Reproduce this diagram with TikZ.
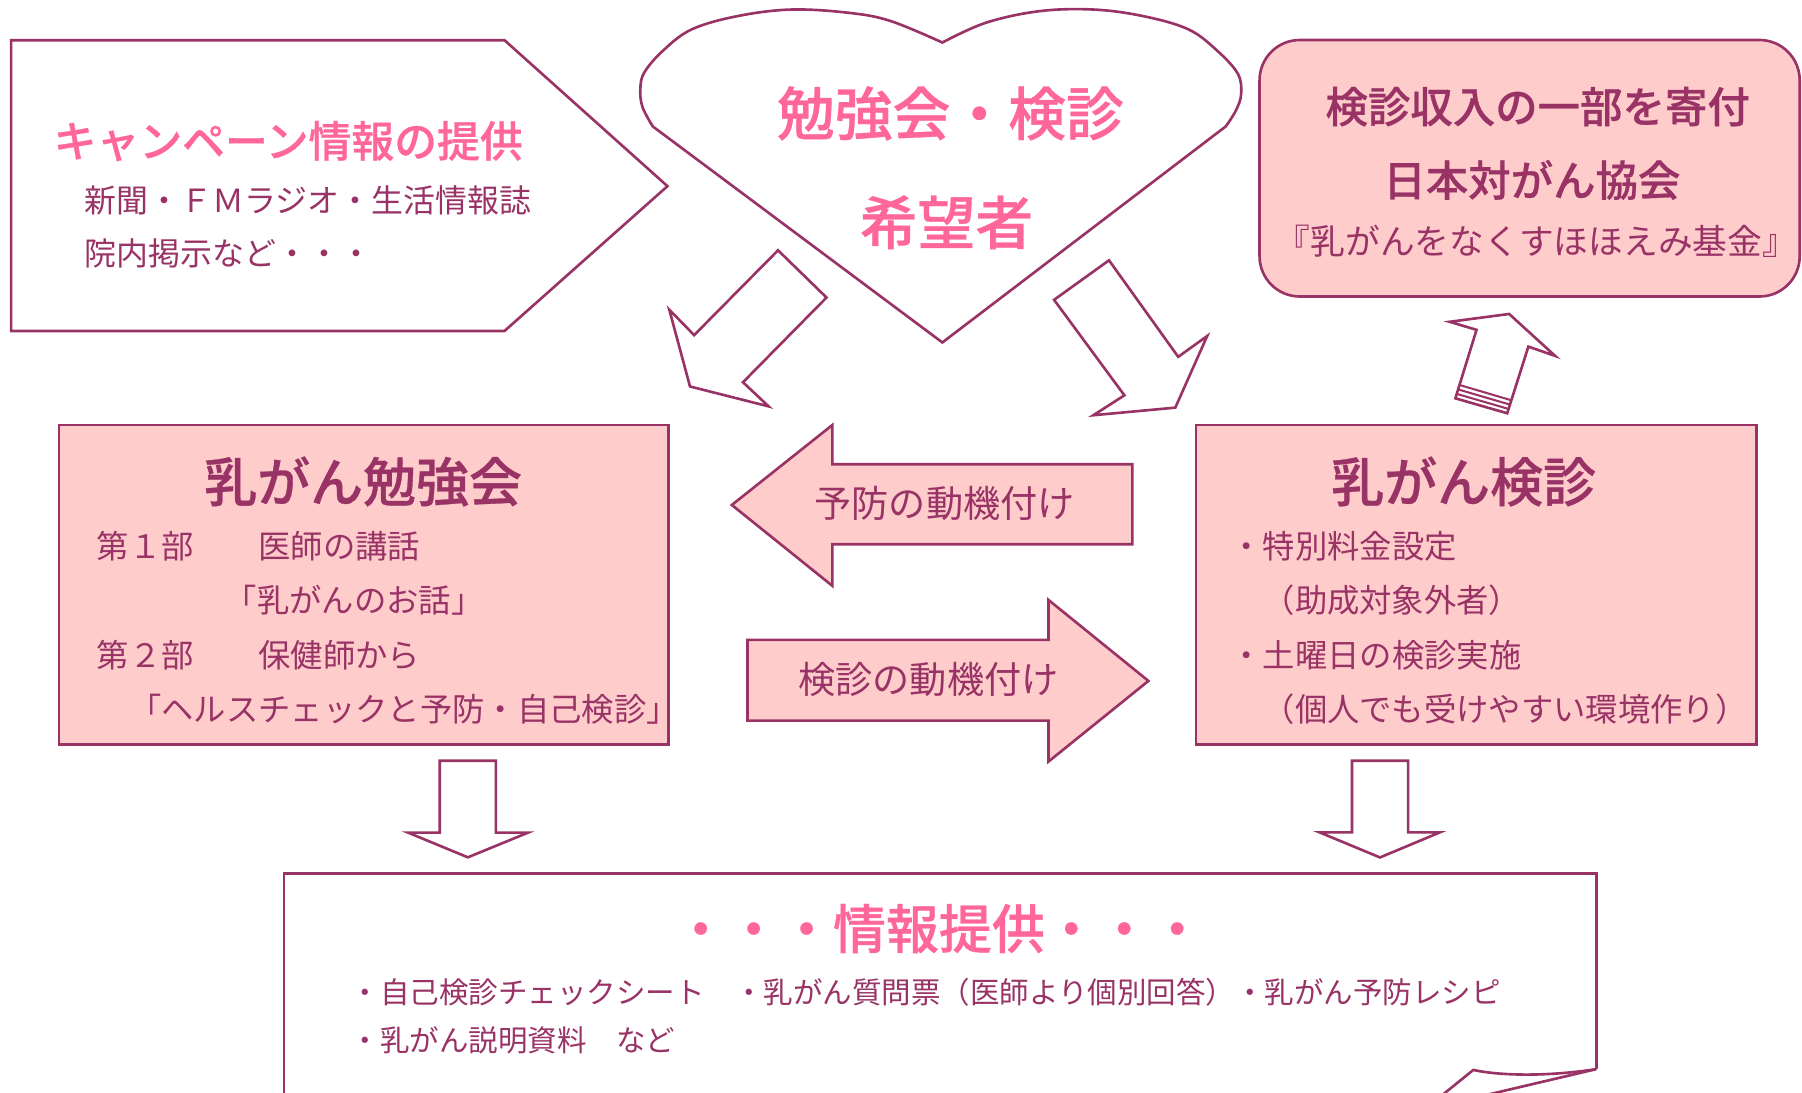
\documentclass[tikz,border=0pt]{standalone}
\usepackage{fontspec}
\newfontfamily\jpfont{Noto Sans CJK JP}
\newfontfamily\jpbold{Noto Sans CJK JP Medium}[FakeBold=0.6]
\usetikzlibrary{calc}
\definecolor{plum}{HTML}{993366}
\definecolor{rosefill}{HTML}{FFCCCC}
\definecolor{rosetext}{HTML}{FF6699}
\def\jpsize#1{\jpfont\fontsize{#1}{#1}\selectfont}
\def\jpbsize#1{\jpbold\fontsize{#1}{#1}\selectfont}
\tikzset{
	outline/.style={draw=plum, line width=0.65pt, line join=miter},
	pinkshape/.style={outline, fill=rosefill},
	whiteshape/.style={outline, fill=white},
	txt/.style={inner sep=0pt, text=plum},
	hearttxt/.style={txt, text=rosetext, font=\jpbsize{14.3pt}},
	camptxt/.style={txt, text=rosetext, font=\jpbsize{10.6pt}, anchor=west},
	bodytxt/.style={txt, font=\jpsize{7.9pt}, anchor=west},
	donatetxt/.style={txt, font=\jpbsize{10.5pt}},
	fundtxt/.style={txt, font=\jpsize{8.6pt}},
	boxtitle/.style={txt, font=\jpbsize{13.1pt}},
	boxbody/.style={txt, font=\jpsize{8pt}, anchor=west},
	motivetxt/.style={txt, font=\jpsize{9.2pt}},
	infotitle/.style={txt, text=rosetext, font=\jpbsize{13.1pt}},
	infobody/.style={txt, font=\jpsize{7.3pt}, anchor=west}
}

\begin{document}
\begin{tikzpicture}[x=0.01cm, y=-0.01cm]
			%%%%% START %%%%%
			\useasboundingbox[fill=white] (0,0) rectangle (1568,951);
			
			% campaign pentagon
			\draw[whiteshape] (9.7,35) -- (439,35) -- (580.8,162) -- (439,288) -- (9.7,288) -- cycle;
			\node[camptxt] (camp) at (46,122.8) {キャンペーン情報の提供};
			\node[bodytxt] (media) at (73,174) {新聞・ＦＭラジオ・生活情報誌};
			\node[bodytxt] (posts) at (73,220.8) {院内掲示など・・・};
			
			% heart
			\draw[whiteshape] (820,298) -- (1066.6,110) -- plot[smooth, tension=0.6] coordinates {(1066.6,110) (1075.6,95.8) (1080,81.5) (1077,64) (1059,44) (1034,25.5) (994.6,14) (951.4,8.3) (904.6,9.7) (857.8,19.8) (820,37)} -- plot[smooth, tension=0.6] coordinates {(820,37) (775,18.3) (739,11.2) (688.6,8.3) (641.8,14) (602,25.5) (577,44) (560.8,62.8) (557.2,77) (559,93) (568,110)} -- cycle;
			\node[hearttxt] (study) at (827,98.7) {勉強会・検診};
			\node[hearttxt] (hope) at (823.6,193.4) {希望者};
			
			% donation box
			\draw[pinkshape, rounded corners=0.35cm] (1096,34.8) rectangle (1566,258);
			\node[donatetxt] (donate) at (1338,92.8) {検診収入の一部を寄付};
			\node[donatetxt] (society) at (1333,156.6) {日本対がん協会};
			\node[fundtxt] (fund) at (1337,210) {『乳がんをなくすほほえみ基金』};
			
			% arrows out of the heart
			\draw[whiteshape] (677,217.8) -- (719.2,258.9) -- (646.5,332.6) -- (668.8,353.6) -- (600.4,336.3) -- (582.4,269.5) -- (604,291.6) -- cycle;
			\draw[whiteshape] (917.2,260.9) -- (965,226.5) -- (1025.2,310.5) -- (1050.4,292.4) -- (1022.7,354.7) -- (951.4,361.3) -- (978.4,344) -- cycle;
			
			% striped arrow up to the donation box
			\coordinate (ubl) at (1266.4,346.6);
			\coordinate (ubr) at (1311.5,359.6);
			\coordinate (usl) at (1284.8,287);
			\coordinate (usr) at (1329.9,301.6);
			\draw[whiteshape] (ubl) -- (usl) -- (1261.4,280) -- (1313.2,273.2) -- (1353.2,309.7) -- (usr) -- (ubr) -- cycle;
			\foreach \t in {0.065,0.13,0.195}
				\draw[outline, line width=0.5pt] ($(ubl)!\t!(usl)$) -- ($(ubr)!\t!(usr)$);
			
			% study meeting box
			\draw[pinkshape] (51.3,369.8) rectangle (581.6,648);
			\node[boxtitle] (lectitle) at (316,419) {乳がん勉強会};
			\node[boxbody] (part1) at (83.5,475.6) {第１部　　医師の講話};
			\node[boxbody] (talk1) at (195,522) {「乳がんのお話」};
			\node[boxbody] (part2) at (83.5,570) {第２部　　保健師から};
			\node[boxbody] (talk2) at (111.8,617) {「ヘルスチェックと予防・自己検診」};
			
			% screening box
			\draw[pinkshape] (1040.6,369.8) rectangle (1528.4,648);
			\node[boxtitle] (exatitle) at (1273.6,419) {乳がん検診};
			\node[boxbody] (fee) at (1070,475.6) {・特別料金設定};
			\node[boxbody] (feenote) at (1098,522) {（助成対象外者）};
			\node[boxbody] (sat) at (1070,570) {・土曜日の検診実施};
			\node[boxbody] (satnote) at (1098,617) {（個人でも受けやすい環境作り）};
			
			% motivation arrows
			\draw[pinkshape] (636.8,439.4) -- (724.3,369.8) -- (724.3,404) -- (985.3,404) -- (985.3,473.6) -- (724.3,473.6) -- (724.3,509.8) -- cycle;
			\node[motivetxt] (prevent) at (822,438) {予防の動機付け};
			\draw[pinkshape] (650.4,556.8) -- (912.3,556.8) -- (912.3,522) -- (999.3,592.5) -- (912.3,662.7) -- (912.3,627) -- (650.4,627) -- cycle;
			\node[motivetxt] (screen) at (808,591.6) {検診の動機付け};
			
			% arrows down to the info sheet
			\draw[whiteshape] (382.7,662) -- (431.5,662) -- (431.5,724.5) -- (459.5,724.5) -- (407.1,746) -- (355.1,724.5) -- (382.7,724.5) -- cycle;
			\draw[whiteshape] (1176.4,662) -- (1225.3,662) -- (1225.3,724.3) -- (1252.9,724.3) -- (1200.8,746.1) -- (1148.3,724.3) -- (1176.4,724.3) -- cycle;
			
			% info sheet with curled corner
			\coordinate (curl) at (1389,930.3);
			\draw[outline] (247,970) -- (247,760) -- (1389,760) -- (curl);
			\draw[outline] (curl) .. controls (1345,937) and (1305,936) .. (1282,931) -- (1240,965);
			\draw[outline] (curl) -- (1220,970);
			\node[infotitle] (info) at (817,808) {・・・情報提供・・・};
			\node[infobody] (items) at (304.6,863) {・自己検診チェックシート　・乳がん質問票（医師より個別回答）・乳がん予防レシピ};
			\node[infobody] (items2) at (304.6,905) {・乳がん説明資料　など};
			
			%%%%% END %%%%%
\end{tikzpicture}
\end{document}
